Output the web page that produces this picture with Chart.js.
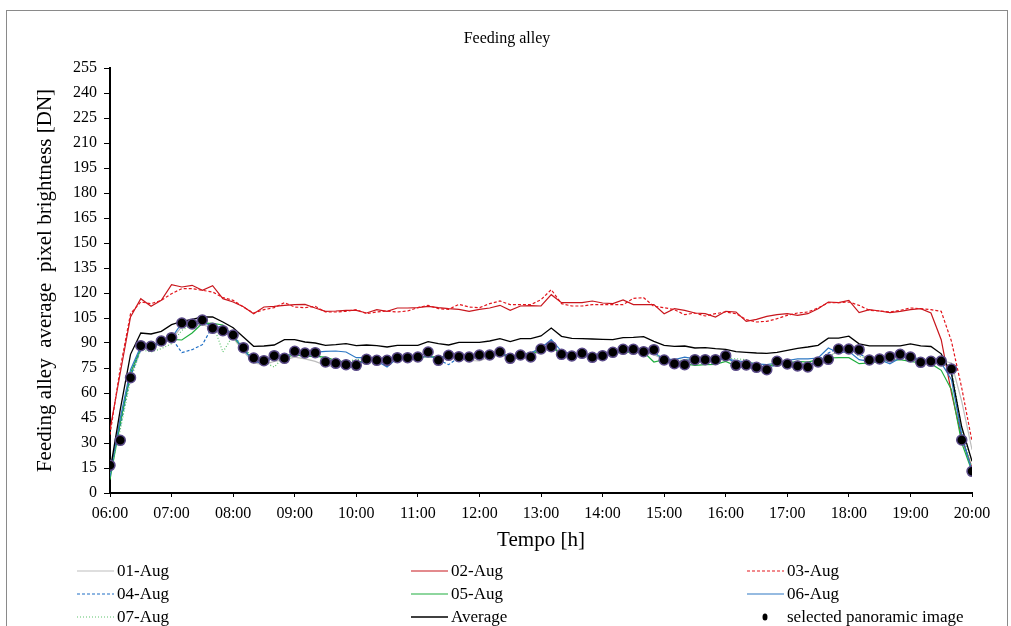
<!DOCTYPE html>
<html>
<head>
<meta charset="utf-8">
<script src="https://cdn.jsdelivr.net/npm/chart.js@4.4.1/dist/chart.umd.min.js"></script>
<style>
  html, body {margin: 0; padding: 0; background: #fff;}
  #wrap {width: 1011px; height: 626px; position: relative;}
</style>
</head>
<body>
<div id="wrap"><canvas id="chart" width="1011" height="626"></canvas></div>
<script>
const FONT = '"Liberation Serif", "Times New Roman", serif';

// one value every 10 minutes, 06:00 ... 20:00
const STEP_MIN = 10;
const hourLabels = ['06:00', '07:00', '08:00', '09:00', '10:00', '11:00', '12:00', '13:00',
                    '14:00', '15:00', '16:00', '17:00', '18:00', '19:00', '20:00'];

const aug01 = [12, 44, 70, 86, 87, 90, 92, 100, 100, 101, 99, 97, 93, 85, 78, 77, 79, 80, 81.5, 80.5,
    79, 76.5, 75.6, 77, 77.5, 79.5, 80, 80, 80.5, 81, 81, 82, 80.5, 81.5, 80.5, 79.5, 79.2, 81.5, 83, 81,
    82, 82.5, 85, 88, 83, 82, 82.5, 81.5, 82, 83.5, 85, 85.5, 84.5, 83, 80, 79, 79, 79.5, 79.5, 79,
    80.5, 78, 77, 76, 75.5, 77.5, 77.5, 77, 76.5, 79, 82, 85, 86, 84, 80, 80, 81, 82, 81, 79,
    79, 79.5, 78, 55, 26];
const aug02 = [38, 72, 105.6, 116.6, 112, 115.6, 125, 123.6, 124.6, 121.6, 124.4, 116.6, 114.6, 111.8, 107.6, 111.6, 112, 112.6, 113, 113.2,
    111, 109, 109.2, 109.6, 109.6, 108, 110, 109, 111, 111, 111.2, 112, 111.2, 110.6, 110.2, 109, 110.2, 111, 112.6, 109.6,
    112.2, 112.4, 112.2, 119, 114.2, 114.2, 114.2, 115.2, 114, 113.6, 115.8, 113, 113, 113, 107.6, 110.6, 109.6, 108, 107.6, 105.6,
    109, 108.6, 103, 104.2, 106, 107, 107.6, 106.6, 107.6, 110.6, 114.6, 114.2, 115.6, 108.2, 110, 109.2, 108.2, 109, 110, 110.6,
    108, 92, 60, 33, 15];
const aug03 = [35, 75, 107.6, 114.6, 113.6, 115.6, 119.6, 122.6, 122.6, 121.6, 120.6, 117.2, 115.6, 111.6, 108, 110, 111.2, 114.2, 111.6, 111.2,
    112, 108.6, 108.6, 109, 110, 107.6, 108.6, 109.2, 108.6, 109.2, 111.2, 112.6, 110.6, 110.2, 113.2, 111.6, 111.2, 113.6, 115.2, 113,
    113, 113, 116, 122, 113.6, 112.2, 112.2, 113, 113, 113, 113, 116.8, 117.2, 112, 111.2, 110, 107, 108, 106.2, 107.6,
    108.6, 107.6, 104, 102.6, 103, 104.6, 106.6, 108, 108.6, 111, 114.2, 114.2, 114.6, 112.6, 109.6, 109.2, 108.6, 109.6, 111, 110.6,
    110, 109, 91, 63, 31];
const aug04 = [14, 40, 70, 86, 87.5, 90, 93, 84.2, 86, 89, 100, 97.5, 94, 87, 80, 78.5, 82, 81.5, 84.5, 83.5,
    83.5, 80, 79, 78, 77, 80, 79.5, 79.5, 80.5, 81, 81.5, 83, 80, 77, 81.5, 81.5, 82.5, 82.5, 84, 81,
    82.5, 84.5, 86, 89, 83.5, 82.5, 83.5, 82, 82.5, 84, 85.5, 86, 84.5, 85, 79, 78, 79.5, 80.5, 80, 79.5,
    81.5, 78, 75.5, 74.5, 74, 77.5, 77, 76.5, 76, 79.5, 84, 87, 86, 83.5, 80.5, 80.5, 81.5, 82.5, 81.5, 79,
    79, 78.5, 73, 33, 14];
const aug05 = [8, 42, 72, 87, 88, 90.5, 92.2, 91.8, 96, 101.8, 101.8, 100.8, 94, 86, 80, 79, 82, 81, 83, 82,
    82, 81.5, 79.5, 78.5, 78, 80, 80.5, 80, 80.5, 81, 81.5, 82, 81.5, 82, 81.5, 81.5, 82.5, 82.5, 83.5, 82,
    82, 83, 86, 88.5, 82.5, 82, 82.5, 82, 82.5, 84, 84.5, 84.5, 84.6, 78.6, 80, 78.6, 77.5, 76.6, 77, 77.2,
    79, 76.2, 75.5, 75.5, 76, 77.5, 78, 79, 78.5, 80, 81, 81.2, 81.2, 77.6, 78, 79, 79.5, 80, 79, 78,
    77.6, 73.6, 62, 30, 13];
const aug06 = [10, 45, 74, 88, 88.5, 90, 93, 102, 101, 102, 100.5, 99, 95, 86, 79, 77.5, 82, 82, 84, 84,
    84.5, 85, 85.2, 84.6, 81.2, 81.2, 79.2, 75.6, 81, 81, 81.5, 82, 81, 82, 81.5, 81.8, 82, 83, 84, 82,
    83, 84, 87, 92, 85, 83.5, 83, 83, 83.5, 84, 85, 85.5, 85, 84, 80.5, 80, 81.5, 80.5, 80.5, 80,
    80.5, 79.5, 78.5, 77.5, 77, 78, 79.5, 80.5, 80.5, 81, 87, 84, 85, 80, 79, 80, 77.5, 81, 82, 80,
    79.5, 78, 68, 35, 13];
const aug07 = [12, 38, 68, 86, 84.6, 86.6, 89.6, 97.6, 101, 102, 102, 84.6, 94.6, 88, 80, 78.5, 75.6, 82, 84, 84,
    83.5, 79, 78, 79, 80, 80.5, 80, 80.5, 81, 81.5, 81, 82.5, 81, 82.5, 81.5, 82, 82.5, 82.5, 83.5, 82,
    84, 84, 86, 89, 84, 83, 83, 82, 83, 84, 85.5, 85.5, 85, 84.5, 80, 79, 80, 80.5, 80.5, 80,
    81, 80.5, 80, 77, 76, 78.5, 78, 77.5, 77, 79, 81, 86, 87, 82, 80.5, 80.5, 81.5, 82, 81.5, 80,
    79.5, 79, 75, 38, 15];
const average = [13, 50, 83.2, 96, 95.4, 97, 101, 103, 104.2, 105.6, 105.6, 102.6, 99.2, 93.6, 88, 88.2, 88.8, 92, 92, 90.6,
    90, 88.6, 89, 89.6, 88.4, 88.8, 88.4, 87.6, 88.6, 88.6, 88.6, 90.8, 89.6, 88.8, 90.4, 90.4, 90.4, 91.2, 92.6, 90.8,
    92.6, 92.6, 94.2, 99, 94, 92.8, 92.6, 92.4, 92.2, 92, 93.2, 93.4, 93.8, 91, 88.6, 88, 88.2, 87, 87.2, 86.6,
    86.2, 84.8, 84.4, 84, 83.8, 84.4, 85.6, 86.8, 87.6, 88.6, 92.9, 92.9, 94.1, 89.5, 88.3, 88.3, 88.3, 88.3, 89.5, 88.3,
    87.9, 83.5, 71.6, 39.6, 19];
const selected = [16.6, 31.6, 69.2, 88.4, 88, 91.2, 93.2, 102, 101.4, 103.8, 98.8, 97.4, 94.8, 87.2, 81, 79.4, 82.4, 80.8, 85, 84,
    84.2, 78.6, 77.8, 77, 76.6, 80.2, 79.6, 79.6, 81.2, 81.2, 81.6, 84.6, 79.6, 82.6, 81.8, 81.6, 82.8, 82.8, 84.6, 80.8,
    82.8, 81.6, 86.4, 87.8, 83.2, 82.2, 83.8, 81.4, 82.4, 84.4, 86.2, 86.2, 84.8, 86, 79.8, 77.6, 77, 80, 80, 80,
    82.4, 76.6, 76.8, 75.4, 74, 79, 77.4, 76.2, 75.6, 78.6, 80.2, 86.4, 86.4, 86, 79.8, 80.4, 81.8, 83.2, 81.6, 78.4,
    79, 79.2, 74.4, 31.8, 13];

const series = [
    {label: '01-Aug',                   data: aug01,    color: '#bdbdbd', dash: [],     width: 1.2},
    {label: '02-Aug',                   data: aug02,    color: '#c8161d', dash: [],     width: 1.2},
    {label: '03-Aug',                   data: aug03,    color: '#e3161d', dash: [3, 2], width: 1.2},
    {label: '04-Aug',                   data: aug04,    color: '#1f6fc6', dash: [3, 2], width: 1.2},
    {label: '05-Aug',                   data: aug05,    color: '#1fae3e', dash: [],     width: 1.2},
    {label: '06-Aug',                   data: aug06,    color: '#2e78c4', dash: [],     width: 1.2},
    {label: '07-Aug',                   data: aug07,    color: '#5cc46c', dash: [1, 2], width: 1.2},
    {label: 'Average',                  data: average,  color: '#000000', dash: [],     width: 1.3},
    {label: 'selected panoramic image', data: selected, dots: true}
];

const toXY = arr => arr.map((v, i) => ({x: i * STEP_MIN, y: v}));

const datasets = series.map((s, i) => s.dots ? {
    label               : s.label,
    data                : toXY(s.data),
    showLine            : false,
    pointRadius         : 5,
    pointBackgroundColor: '#000',
    pointBorderColor    : '#5a4a88',
    pointBorderWidth    : 1.5,
    order               : series.length - 1 - i
} : {
    label      : s.label,
    data       : toXY(s.data),
    borderColor: s.color,
    borderDash : s.dash,
    borderWidth: s.width,
    pointRadius: 0,
    tension    : 0,
    fill       : false,
    order      : series.length - 1 - i
});

// legend: 3 columns x 3 rows under the x axis
const LEGEND_X = [77, 411, 747];
const LEGEND_Y = [571, 594, 617];

const frameAndTitle = {
    id: 'frameAndTitle',
    beforeDraw(chart) {
        const ctx = chart.ctx;
        ctx.save();
        ctx.fillStyle = '#fff';
        ctx.fillRect(0, 0, chart.width, chart.height);
        ctx.strokeStyle = '#8a8a8a';
        ctx.lineWidth = 1;
        ctx.strokeRect(6.5, 10.5, 1001, 640);
        ctx.fillStyle = '#000';
        ctx.font = '16px ' + FONT;
        ctx.textAlign = 'center';
        ctx.textBaseline = 'middle';
        ctx.fillText('Feeding alley', 507, 39);
        ctx.restore();
    }
};

const legendGrid = {
    id: 'legendGrid',
    afterDraw(chart) {
        const ctx = chart.ctx;
        ctx.save();
        ctx.font = '17px ' + FONT;
        ctx.textBaseline = 'middle';
        ctx.textAlign = 'left';
        chart.data.datasets.forEach((ds, i) => {
            const x = LEGEND_X[i % 3];
            const y = LEGEND_Y[Math.floor(i / 3)];
            if (ds.showLine === false) {
                ctx.fillStyle = '#000';
                ctx.beginPath();
                ctx.ellipse(x + 18, y, 2.5, 3.5, 0, 0, Math.PI * 2);
                ctx.fill();
            } else {
                ctx.strokeStyle = ds.borderColor;
                ctx.lineWidth = ds.borderWidth;
                ctx.setLineDash(ds.borderDash);
                ctx.beginPath();
                ctx.moveTo(x, y);
                ctx.lineTo(x + 37, y);
                ctx.stroke();
                ctx.setLineDash([]);
            }
            ctx.fillStyle = '#000';
            ctx.fillText(ds.label, x + 40, y + 1);
        });
        ctx.restore();
    }
};

new Chart(document.getElementById('chart'), {
    type: 'line',
    data: {datasets},
    plugins: [frameAndTitle, legendGrid],
    options: {
        responsive: false,
        animation: false,
        events: [],
        layout: {padding: {top: 68, right: 39, bottom: 0, left: 0}},
        plugins: {legend: {display: false}, tooltip: {enabled: false}, title: {display: false}},
        scales: {
            x: {
                type: 'linear',
                min: 0,
                max: (hourLabels.length - 1) * 60,
                afterFit: s => { s.height = 133; },
                ticks: {
                    stepSize: 60,
                    autoSkip: false,
                    maxRotation: 0,
                    color: '#000',
                    padding: 7,
                    font: {family: FONT, size: 16},
                    callback: v => hourLabels[v / 60]
                },
                grid: {drawOnChartArea: false, drawTicks: true, tickLength: 4, tickColor: '#000', tickWidth: 1},
                border: {color: '#000', width: 2},
                title: {
                    display: true,
                    text: 'Tempo [h]',
                    color: '#000',
                    font: {family: FONT, size: 21},
                    padding: {top: 0, bottom: 73}
                }
            },
            y: {
                min: 0,
                max: 255,
                afterFit: s => { s.width = 110; },
                ticks: {stepSize: 15, color: '#000', padding: 7, font: {family: FONT, size: 16}},
                grid: {drawOnChartArea: false, drawTicks: true, tickLength: 6, tickColor: '#000', tickWidth: 1},
                border: {color: '#000', width: 2},
                title: {
                    display: true,
                    text: 'Feeding alley  average  pixel brightness [DN]',
                    color: '#000',
                    font: {family: FONT, size: 21},
                    padding: {top: 33, bottom: 0}
                }
            }
        }
    }
});
</script>
</body>
</html>
